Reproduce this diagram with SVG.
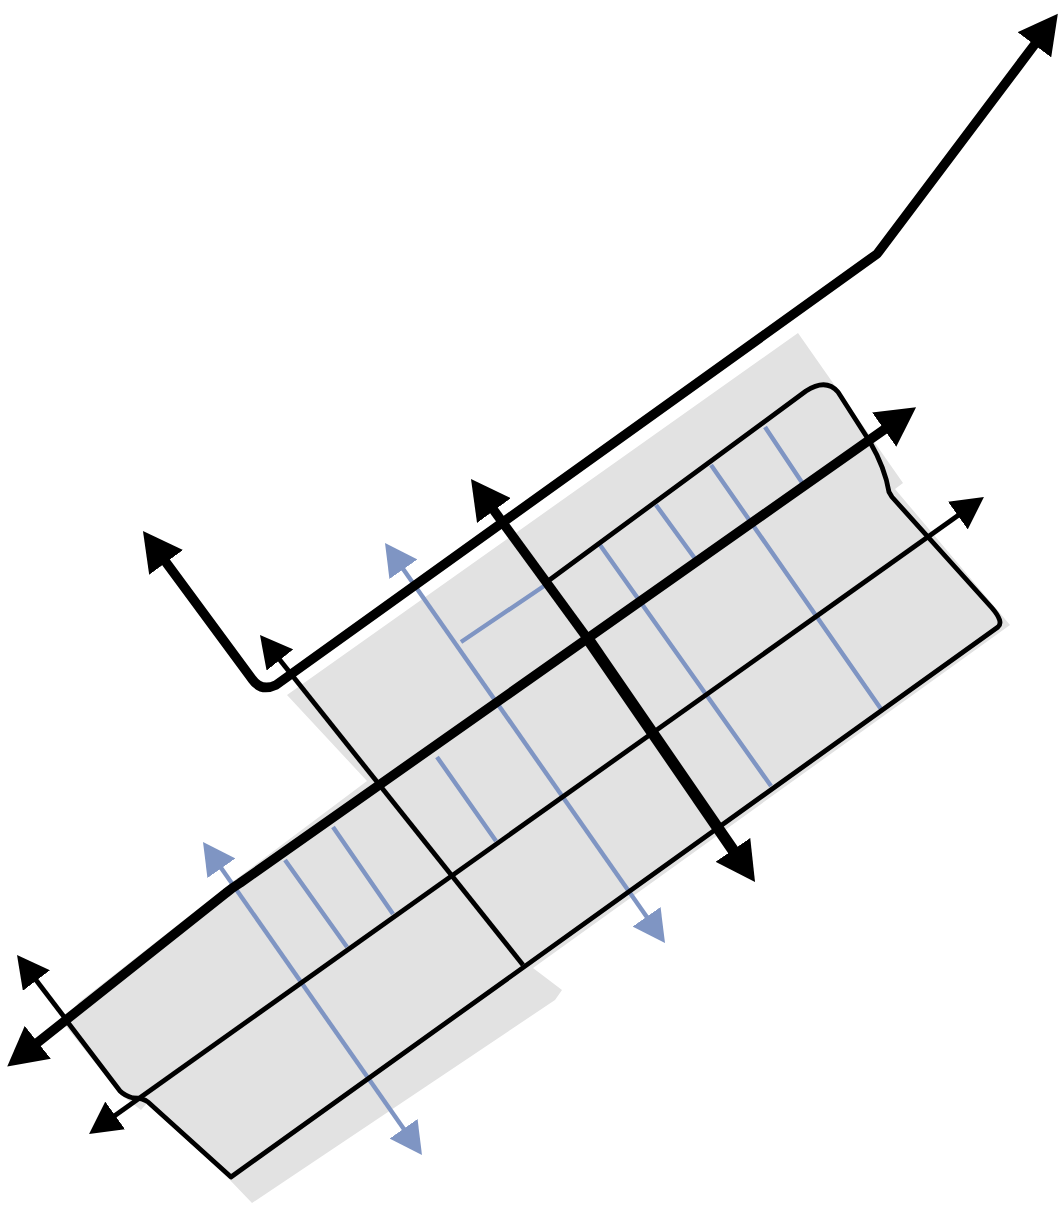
<svg xmlns="http://www.w3.org/2000/svg" width="1058" height="1206" viewBox="0 0 1058 1206">
<style>
.k{fill:none;stroke:#000;stroke-linejoin:round;stroke-linecap:butt}
.b{fill:none;stroke:#7f95c3;stroke-width:4.4}
.t4{stroke-width:4.8}
.t8{stroke-width:9.5}
.t10{stroke-width:11.5}
</style>
<defs>
<marker id="hl" markerUnits="userSpaceOnUse" viewBox="0 0 42 42" refX="1" refY="21" markerWidth="42" markerHeight="42" orient="auto-start-reverse"><path d="M0 0L39 21L0 42Z" fill="#000"/></marker>
<marker id="hm" markerUnits="userSpaceOnUse" viewBox="0 0 34 34" refX="1" refY="17" markerWidth="34" markerHeight="34" orient="auto-start-reverse"><path d="M0 0L32 17L0 34Z" fill="#000"/></marker>
<marker id="hb" markerUnits="userSpaceOnUse" viewBox="0 0 34 34" refX="1" refY="17" markerWidth="34" markerHeight="34" orient="auto-start-reverse"><path d="M0 0L32 17L0 34Z" fill="#7f95c3"/></marker>
</defs>
<g id="ground"><path fill="#e2e2e2" d="M798 333L903 483L895 489L1010 625L533 968L562 990L555 1000L252 1203L228 1178L147 1103L141 1110L120 1094L65 1025L78 1003L235 880L367 781L287 695Z"/></g>
<g id="connectors">
<g id="blue-lines">
<path class="b" marker-start="url(#hb)" marker-end="url(#hb)" d="M402.8 568.4L647.2 917.6"/>
<path class="b" marker-start="url(#hb)" marker-end="url(#hb)" d="M220.8 867.4L404.2 1129.6"/>
<path class="b" d="M285 860L347 947M333 827L393 914M437 757L496 841M600 545L771 786M656 505L696 560M711 465L881 709M765 427L803 484M461 642L544 586"/>
</g>
<path class="k t4" d="M544 584L806 391Q826 378 838 392L870 442Q885 468 889 492L892 497L992 608Q1004 622 998 627L231 1177L148 1102Q143 1098 133 1098Q125 1096 120 1091L66 1020"/>
<path class="k t4" marker-start="url(#hm)" d="M35.8 979.7L68 1022"/>
<path class="k t4" marker-start="url(#hm)" d="M279.3 659.2L523 965"/>
<path class="k t4" marker-start="url(#hm)" marker-end="url(#hm)" d="M114.3 1116L958.7 515"/>
<path class="k t8" marker-start="url(#hl)" marker-end="url(#hl)" d="M37 1043L226 893Q232 888 240 883L885 429"/>
<path class="k t8" marker-start="url(#hl)" d="M493.4 509.7L590 642"/>
<path class="k t10" marker-end="url(#hl)" d="M588 639L733.5 850.7"/>
<path class="k t8" marker-start="url(#hl)" marker-end="url(#hl)" d="M165.5 561.6L252 679Q261 692 276 685L877 254L1035 44"/>
</g>
</svg>
